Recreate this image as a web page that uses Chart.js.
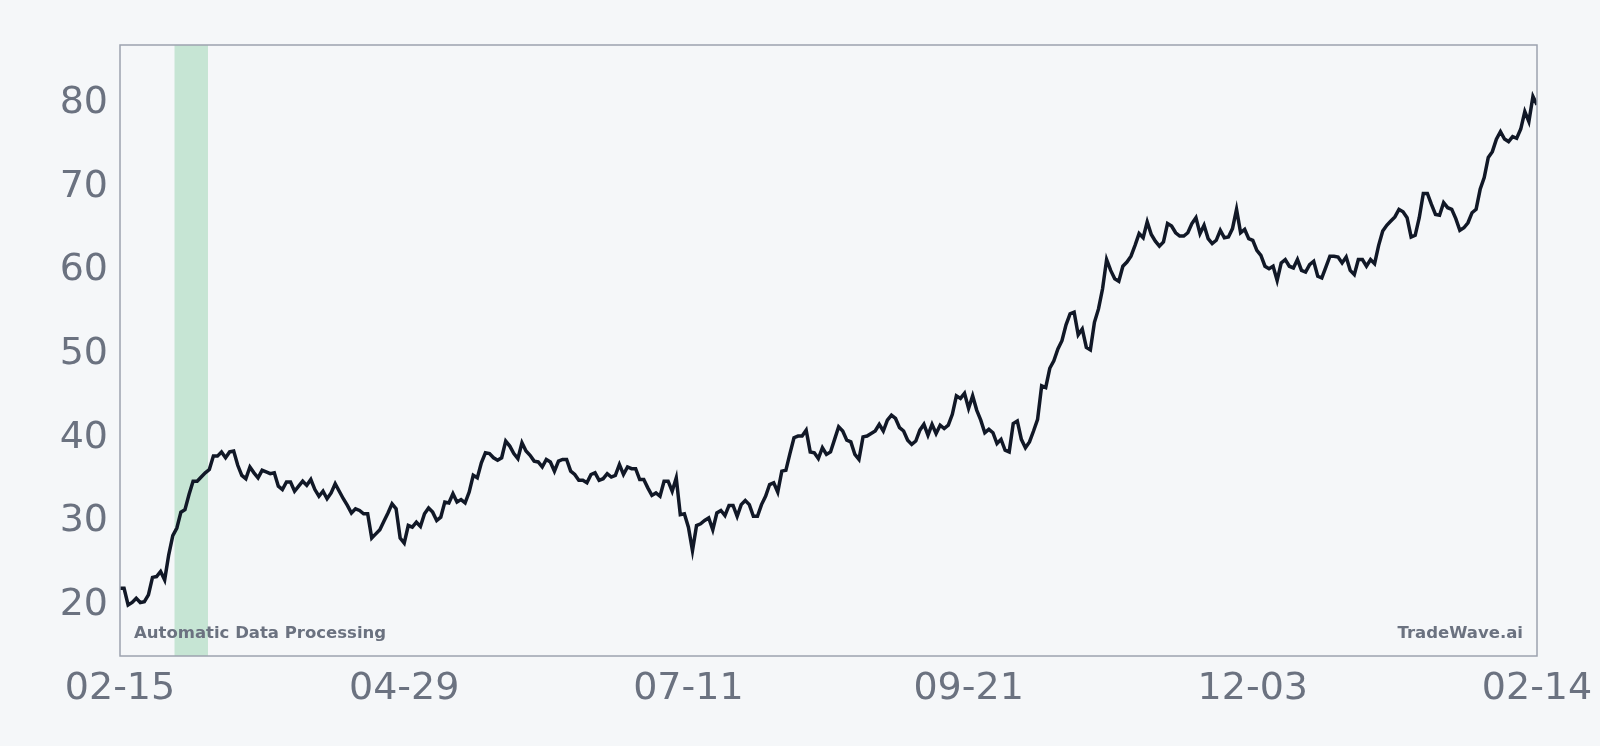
<!DOCTYPE html>
<html>
<head>
<meta charset="utf-8">
<script src="https://cdn.jsdelivr.net/npm/chart.js@4"></script>
<style>
  html, body { margin: 0; padding: 0; background: #f5f7f9; }
  #wrap { width: 1600px; height: 746px; }
</style>
</head>
<body>
<div id="wrap"><canvas id="c"></canvas></div>
<script>
// one value per trading session, 02-15 .. 02-14 next year
const prices = [
  22.0, 22.0, 20.0, 20.3, 20.8, 20.3, 20.4, 21.2, 23.3, 23.4, 24.0, 23.0, 26.0, 28.3, 29.2, 31.1, 31.4, 33.2, 34.8, 34.8,
  35.3, 35.8, 36.2, 37.8, 37.8, 38.3, 37.6, 38.3, 38.4, 36.7, 35.5, 35.1, 36.5, 35.8, 35.2, 36.1, 35.9, 35.7, 35.8, 34.2,
  33.8, 34.7, 34.7, 33.6, 34.2, 34.8, 34.3, 35.0, 33.8, 33.0, 33.6, 32.7, 33.4, 34.5, 33.6, 32.7, 31.9, 31.0, 31.5, 31.3,
  30.9, 30.9, 28.0, 28.5, 29.0, 30.0, 31.0, 32.1, 31.5, 28.0, 27.4, 29.5, 29.3, 29.9, 29.4, 30.9, 31.6, 31.1, 30.1, 30.5,
  32.3, 32.2, 33.3, 32.3, 32.6, 32.2, 33.5, 35.5, 35.2, 37.0, 38.2, 38.1, 37.6, 37.3, 37.6, 39.6, 39.0, 38.1, 37.5, 39.4,
  38.4, 37.9, 37.2, 37.1, 36.5, 37.4, 37.1, 36.0, 37.2, 37.4, 37.4, 36.0, 35.6, 34.9, 34.9, 34.6, 35.6, 35.8, 34.9, 35.1,
  35.7, 35.3, 35.5, 36.8, 35.6, 36.5, 36.3, 36.3, 35.0, 35.0, 34.0, 33.1, 33.4, 33.0, 34.8, 34.8, 33.6, 35.2, 30.8, 30.9,
  29.3, 26.5, 29.5, 29.7, 30.1, 30.4, 29.0, 31.0, 31.3, 30.7, 31.9, 31.9, 30.6, 32.0, 32.5, 32.0, 30.6, 30.6, 32.0, 33.0,
  34.4, 34.6, 33.5, 36.0, 36.1, 38.1, 40.0, 40.2, 40.2, 40.9, 38.3, 38.2, 37.5, 38.8, 38.0, 38.3, 39.8, 41.3, 40.8, 39.7,
  39.5, 38.0, 37.4, 40.1, 40.2, 40.5, 40.8, 41.6, 40.8, 42.1, 42.7, 42.3, 41.2, 40.8, 39.7, 39.2, 39.6, 40.9, 41.6, 40.3,
  41.6, 40.5, 41.5, 41.1, 41.5, 42.8, 45.0, 44.7, 45.3, 43.5, 45.0, 43.3, 42.1, 40.6, 41.0, 40.6, 39.3, 39.8, 38.5, 38.3,
  41.7, 42.0, 39.8, 38.8, 39.5, 40.8, 42.2, 46.2, 46.0, 48.3, 49.2, 50.6, 51.6, 53.5, 54.8, 55.0, 52.3, 53.0, 50.8, 50.5,
  53.8, 55.4, 57.8, 61.3, 60.0, 59.0, 58.7, 60.5, 61.0, 61.7, 63.0, 64.4, 63.9, 65.8, 64.3, 63.5, 62.9, 63.4, 65.6, 65.3,
  64.5, 64.1, 64.1, 64.5, 65.6, 66.3, 64.4, 65.4, 63.8, 63.2, 63.6, 64.8, 63.9, 64.0, 65.0, 67.3, 64.5, 64.9, 63.8, 63.6,
  62.4, 61.8, 60.5, 60.2, 60.5, 58.8, 60.9, 61.3, 60.5, 60.3, 61.3, 60.0, 59.8, 60.7, 61.1, 59.3, 59.1, 60.4, 61.7, 61.7,
  61.6, 60.9, 61.6, 60.0, 59.5, 61.3, 61.3, 60.5, 61.3, 60.8, 63.0, 64.7, 65.4, 65.9, 66.4, 67.3, 67.0, 66.3, 64.0, 64.2,
  66.3, 69.2, 69.2, 67.9, 66.7, 66.6, 68.1, 67.5, 67.3, 66.2, 64.8, 65.1, 65.7, 66.9, 67.3, 69.7, 71.1, 73.5, 74.2, 75.7,
  76.6, 75.7, 75.4, 76.0, 75.8, 76.9, 79.0, 77.8, 80.8, 79.8
];
const tickDays = [0, 73, 146, 218, 291, 364];
const tickLabels = ['02-15', '04-29', '07-11', '09-21', '12-03', '02-14'];
const yTicks = [20, 30, 40, 50, 60, 70, 80];
const bandDays = [14, 22.6];
const totalDays = 364;

const points = prices.map((v, i) => ({ x: i * totalDays / (prices.length - 1), y: v }));

const bandPlugin = {
  id: 'band',
  beforeDatasetsDraw(chart) {
    const { ctx, chartArea, scales } = chart;
    const x0 = scales.x.getPixelForValue(bandDays[0]);
    const x1 = scales.x.getPixelForValue(bandDays[1]);
    ctx.save();
    ctx.fillStyle = 'rgba(134, 204, 163, 0.42)';
    ctx.fillRect(x0, chartArea.top, x1 - x0, chartArea.bottom - chartArea.top);
    ctx.restore();
  },
  afterDraw(chart) {
    const { ctx, chartArea } = chart;
    ctx.save();
    ctx.strokeStyle = '#9ca3af';
    ctx.lineWidth = 1.5;
    ctx.strokeRect(chartArea.left, chartArea.top, chartArea.right - chartArea.left, chartArea.bottom - chartArea.top);
    ctx.font = 'bold 16.5px "DejaVu Sans", sans-serif';
    ctx.fillStyle = '#6b7280';
    ctx.textBaseline = 'middle';
    ctx.textAlign = 'left';
    ctx.fillText('Automatic Data Processing', chartArea.left + 14, chartArea.bottom - 22);
    ctx.textAlign = 'right';
    ctx.fillText('TradeWave.ai', chartArea.right - 14, chartArea.bottom - 22);
    ctx.restore();
  }
};

new Chart(document.getElementById('c'), {
  type: 'line',
  data: {
    datasets: [{
      data: points,
      borderColor: '#111827',
      borderWidth: 3.5,
      pointRadius: 0,
      tension: 0
    }]
  },
  options: {
    responsive: true,
    maintainAspectRatio: false,
    animation: false,
    layout: { padding: { top: 45, right: 63, bottom: 16, left: 0 } },
    plugins: { legend: { display: false }, tooltip: { enabled: false } },
    scales: {
      x: {
        type: 'linear',
        min: 0,
        max: totalDays,
        afterBuildTicks: s => { s.ticks = tickDays.map(v => ({ value: v })); },
        afterFit: s => { s.height = 74; },
        grid: { display: false, drawTicks: true, tickLength: 8, tickColor: '#9ca3af' },
        border: { display: false },
        ticks: {
          autoSkip: false,
          maxRotation: 0,
          color: '#6b7280',
          font: { size: 38, family: '"DejaVu Sans", sans-serif' },
          padding: 2,
          callback: (v) => tickLabels[tickDays.indexOf(v)]
        }
      },
      y: {
        min: 13.9,
        max: 86.95,
        afterBuildTicks: s => { s.ticks = yTicks.map(v => ({ value: v })); },
        afterFit: s => { s.width = 120; },
        grid: { display: false, drawTicks: true, tickLength: 8, tickColor: '#9ca3af' },
        border: { display: false },
        ticks: {
          color: '#6b7280',
          font: { size: 38, family: '"DejaVu Sans", sans-serif' },
          padding: 4
        }
      }
    }
  },
  plugins: [bandPlugin]
});
</script>
</body>
</html>
